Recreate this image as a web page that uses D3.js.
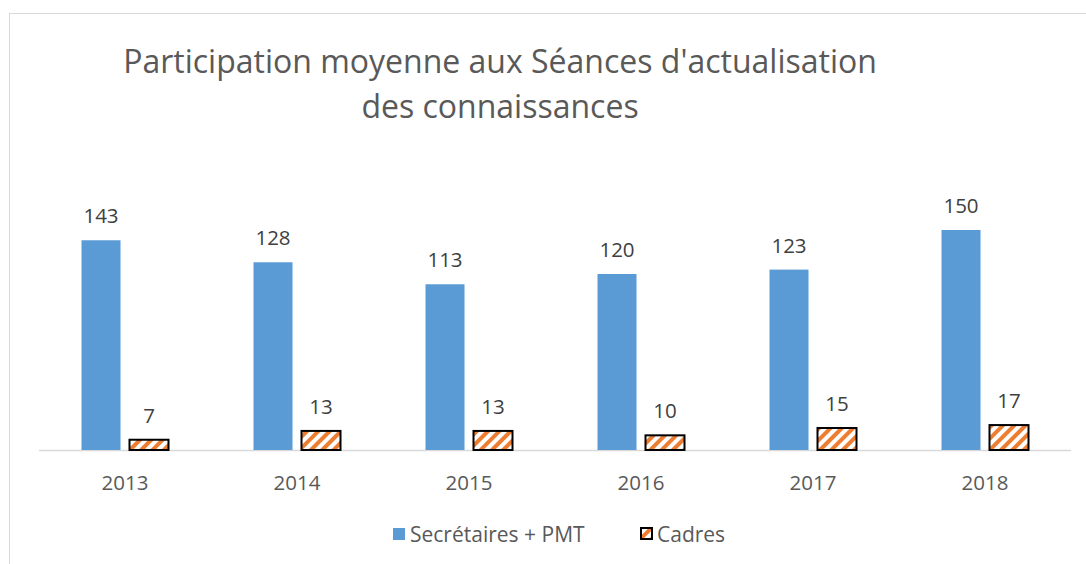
<!DOCTYPE html>
<html>
<head>
<meta charset="utf-8">
<script src="https://cdn.jsdelivr.net/npm/d3@7"></script>
<style>
  body { margin: 0; background: #fff; }
  text { font-family: "Open Sans", sans-serif; }
</style>
</head>
<body>
<div id="chart"></div>
<script>
// data
var years = ["2013", "2014", "2015", "2016", "2017", "2018"];
var secretaires = [143, 128, 113, 120, 123, 150];
var cadres = [7, 13, 13, 10, 15, 17];
var seriesNames = ["Secrétaires + PMT", "Cadres"];
var titleLines = ["Participation moyenne aux Séances d'actualisation", "des connaissances"];

var width = 1086;
var height = 564;
var leftMargin = 39;
var rightMargin = 15;
var baseline = 450;
var topY = 230;

var svg = d3.select("#chart")
    .append("svg")
    .attr("width", width)
    .attr("height", height);

// stripe pattern for the Cadres bars
var defs = svg.append("defs");
var pat = defs.append("pattern")
    .attr("id", "stripes")
    .attr("patternUnits", "userSpaceOnUse")
    .attr("width", 8)
    .attr("height", 8)
    .attr("patternTransform", "rotate(45)");
pat.append("rect").attr("width", 8).attr("height", 8).attr("fill", "#ffffff");
pat.append("rect").attr("width", 4).attr("height", 8).attr("fill", "#ed7d31");

// chart border (runs off the right and bottom)
svg.append("rect")
    .attr("x", 9.5)
    .attr("y", 13.5)
    .attr("width", width + 20)
    .attr("height", height + 20)
    .attr("fill", "none")
    .attr("stroke", "#d9d9d9")
    .attr("stroke-width", 1);

// title
svg.append("text")
    .attr("x", 500)
    .attr("y", 72.5)
    .attr("text-anchor", "middle")
    .style("font-size", "32px")
    .style("fill", "#595959")
    .selectAll("tspan")
    .data(titleLines)
    .enter()
    .append("tspan")
    .attr("x", 500)
    .attr("dy", function(d, i) { return i == 0 ? 0 : 45; })
    .text(function(d) { return d; });

// scales
var x = d3.scaleBand()
    .domain(years)
    .range([leftMargin, width - rightMargin])
    .padding(0);
var y = d3.scaleLinear()
    .domain([0, 150])
    .range([baseline, topY]);

var barWidth = 39;
var gap = 9;

// axis line
svg.append("line")
    .attr("x1", leftMargin)
    .attr("x2", width - rightMargin)
    .attr("y1", baseline + 0.5)
    .attr("y2", baseline + 0.5)
    .attr("stroke", "#d9d9d9")
    .attr("stroke-width", 1.5);

// blue bars
svg.selectAll(".bleu")
    .data(secretaires)
    .enter()
    .append("rect")
    .attr("class", "bleu")
    .attr("x", function(d, i) { return x(years[i]) + x.bandwidth() / 2 - gap / 2 - barWidth; })
    .attr("y", function(d) { return y(d); })
    .attr("width", barWidth)
    .attr("height", function(d) { return baseline - y(d); })
    .attr("fill", "#5b9bd5");

// cadres bars
svg.selectAll(".cadres")
    .data(cadres)
    .enter()
    .append("rect")
    .attr("class", "cadres")
    .attr("x", function(d, i) { return x(years[i]) + x.bandwidth() / 2 + gap / 2; })
    .attr("y", function(d) { return y(d); })
    .attr("width", barWidth)
    .attr("height", function(d) { return baseline - y(d); })
    .attr("fill", "url(#stripes)")
    .attr("stroke", "#000")
    .attr("stroke-width", 2);

// value labels
svg.selectAll(".lblBleu")
    .data(secretaires)
    .enter()
    .append("text")
    .attr("x", function(d, i) { return x(years[i]) + x.bandwidth() / 2 - gap / 2 - barWidth / 2; })
    .attr("y", function(d) { return y(d) - 17; })
    .attr("text-anchor", "middle")
    .style("font-size", "20.5px")
    .style("fill", "#404040")
    .text(function(d) { return d; });

svg.selectAll(".lblCadres")
    .data(cadres)
    .enter()
    .append("text")
    .attr("x", function(d, i) { return x(years[i]) + x.bandwidth() / 2 + gap / 2 + barWidth / 2; })
    .attr("y", function(d) { return y(d) - 17; })
    .attr("text-anchor", "middle")
    .style("font-size", "20.5px")
    .style("fill", "#404040")
    .text(function(d) { return d; });

// x axis labels
svg.selectAll(".yearLbl")
    .data(years)
    .enter()
    .append("text")
    .attr("x", function(d) { return x(d) + x.bandwidth() / 2; })
    .attr("y", 489.5)
    .attr("text-anchor", "middle")
    .style("font-size", "20.5px")
    .style("fill", "#595959")
    .text(function(d) { return d; });

// legend
var legend = svg.append("g");
legend.append("rect")
    .attr("x", 393)
    .attr("y", 528)
    .attr("width", 12)
    .attr("height", 12)
    .attr("fill", "#5b9bd5");
legend.append("text")
    .attr("x", 410)
    .attr("y", 541.5)
    .style("font-size", "21px")
    .style("fill", "#595959")
    .text(seriesNames[0]);
legend.append("rect")
    .attr("x", 641)
    .attr("y", 528)
    .attr("width", 11)
    .attr("height", 11)
    .attr("fill", "url(#stripes)")
    .attr("stroke", "#000")
    .attr("stroke-width", 2);
legend.append("text")
    .attr("x", 657)
    .attr("y", 541.5)
    .style("font-size", "21px")
    .style("fill", "#595959")
    .text(seriesNames[1]);
</script>
</body>
</html>
